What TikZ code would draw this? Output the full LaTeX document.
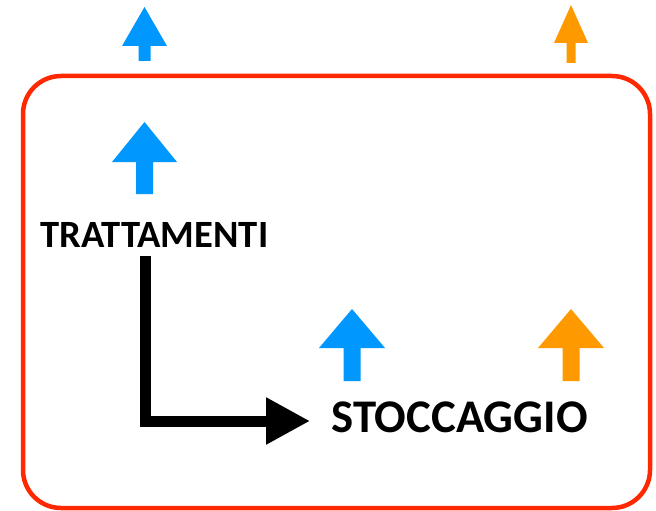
\documentclass[tikz,border=0pt]{standalone}
\usepackage{fontspec}
\setmainfont{Carlito}
\usepackage{xcolor}
\usepackage{tikz}
\usetikzlibrary{arrows.meta,positioning,calc}

\definecolor{flowblue}{RGB}{0,152,255}
\definecolor{floworange}{RGB}{255,153,0}
\definecolor{boxred}{RGB}{255,40,0}

% block arrow pointing up: colour, x, tip y, head width, head height, shaft width, bottom y
\newcommand{\upblock}[7]{%
  \fill[#1] (#2,#3) -- ({#2+#4/2},{#3+#5}) -- ({#2+#6/2},{#3+#5}) -- ({#2+#6/2},#7)
    -- ({#2-#6/2},#7) -- ({#2-#6/2},{#3+#5}) -- ({#2-#4/2},{#3+#5}) -- cycle;}

\begin{document}
\begin{tikzpicture}[x=1pt, y=-1pt,
    lbl/.style={inner sep=0pt, font=\bfseries\fontsize{38.6}{41}\selectfont},
    biglbl/.style={inner sep=0pt, font=\bfseries\fontsize{46.8}{49}\selectfont},
    flow/.style={line width=11pt, -{Triangle[length=44pt, width=44pt]}}
]
    \useasboundingbox (0,0) rectangle (656,511);

    % outer box
    \draw[boxred, line width=4.5pt, rounded corners=38pt] (23,76) rectangle (650,508);

    % arrows above the box
    \upblock{flowblue}{144.5}{7}{45}{39}{12}{61}
    \upblock{floworange}{571}{5}{34}{38}{9}{63}

    % arrows inside the box
    \upblock{flowblue}{144.5}{122}{65}{40}{17}{194}
    \upblock{flowblue}{352}{309}{66}{39}{17}{381}
    \upblock{floworange}{571}{309}{66}{39}{17}{381}

    \node[lbl] (tratt) at (154.5,235) {TRATTAMENTI};
    \node[biglbl] (stocc) at (459.5,417.5) {STOCCAGGIO};

    \draw[flow, shorten <=8pt, shorten >=21pt] ([xshift=-9pt]tratt.south) |- ([yshift=-3.5pt]stocc.west);
\end{tikzpicture}
\end{document}
